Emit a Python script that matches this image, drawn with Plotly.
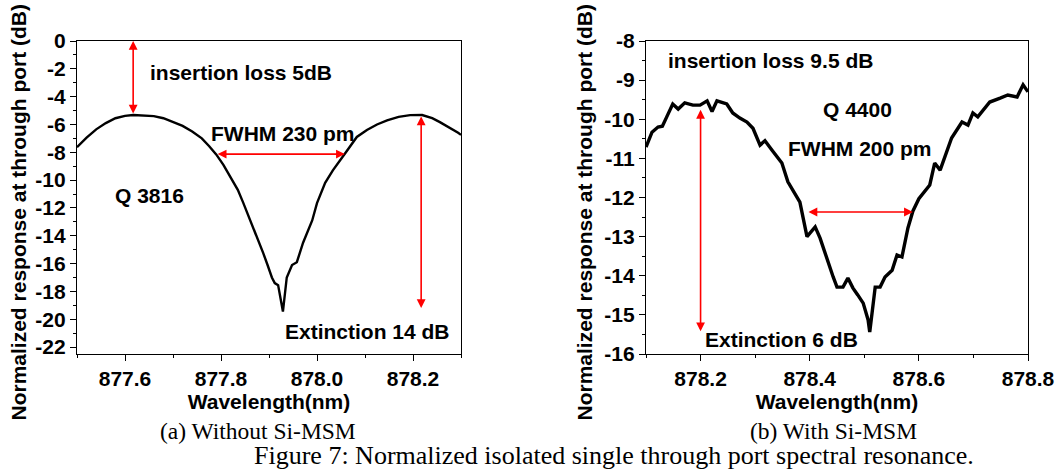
import plotly.graph_objects as go

# ---------------- data ----------------
left_wl = [877.500, 877.520, 877.540, 877.560, 877.580, 877.600, 877.617, 877.640, 877.660,
           877.680, 877.700, 877.720, 877.740, 877.760, 877.775, 877.790, 877.805, 877.819,
           877.835, 877.846, 877.856, 877.867, 877.877, 877.888, 877.897, 877.906, 877.912,
           877.919, 877.929, 877.937, 877.948, 877.958, 877.971, 877.990, 878.000, 878.017,
           878.033, 878.045, 878.058, 878.083, 878.104, 878.125, 878.146, 878.170, 878.194,
           878.219, 878.240, 878.256, 878.275, 878.294, 878.300]
left_db = [-7.63, -6.95, -6.35, -5.90, -5.55, -5.38, -5.32, -5.35, -5.40,
           -5.55, -5.80, -6.10, -6.50, -7.00, -7.55, -8.15, -8.90, -9.75,
           -10.70, -11.60, -12.45, -13.40, -14.30, -15.25, -16.10, -17.00, -17.40,
           -17.55, -19.45, -17.00, -16.10, -15.90, -14.50, -12.90, -11.65, -10.20,
           -9.30, -8.70, -8.10, -6.90, -6.40, -6.00, -5.70, -5.45, -5.33,
           -5.32, -5.55, -5.83, -6.20, -6.60, -6.75]

right_wl = [878.100, 878.111, 878.122, 878.130, 878.138, 878.149, 878.159, 878.171, 878.186,
            878.199, 878.212, 878.221, 878.230, 878.248, 878.259, 878.272, 878.285, 878.296,
            878.309, 878.318, 878.331, 878.349, 878.360, 878.377, 878.382, 878.395, 878.410,
            878.419, 878.432, 878.443, 878.450, 878.461, 878.470, 878.479, 878.488, 878.498,
            878.507, 878.510, 878.520, 878.529, 878.538, 878.551, 878.560, 878.569, 878.580,
            878.589, 878.600, 878.611, 878.620, 878.629, 878.639, 878.660, 878.679, 878.690,
            878.699, 878.708, 878.730, 878.749, 878.763, 878.780, 878.791, 878.800]
right_db = [-10.71, -10.33, -10.20, -10.18, -9.94, -9.61, -9.74, -9.58, -9.64,
            -9.64, -9.53, -9.80, -9.53, -9.61, -9.84, -9.97, -10.07, -10.23,
            -10.66, -10.55, -10.79, -11.12, -11.60, -12.00, -12.12, -13.00, -12.75,
            -13.04, -13.60, -14.03, -14.29, -14.29, -14.06, -14.31, -14.49, -14.70,
            -15.13, -15.44, -14.29, -14.29, -14.03, -13.86, -13.47, -13.52, -12.78,
            -12.35, -12.03, -11.85, -11.68, -11.12, -11.30, -10.48, -10.07, -10.15,
            -9.84, -9.94, -9.56, -9.46, -9.38, -9.43, -9.12, -9.30]

left_xticks = [877.6, 877.8, 878.0, 878.2]
left_yticks = [0, -2, -4, -6, -8, -10, -12, -14, -16, -18, -20, -22]
right_xticks = [878.2, 878.4, 878.6, 878.8]
right_yticks = [-8, -9, -10, -11, -12, -13, -14, -15, -16]

# ---------------- styling ----------------
FONT = "Liberation Sans"
SERIF = "Liberation Serif"
FS = 21
RED = "#ff0000"

fig = go.Figure()
fig.add_trace(go.Scatter(x=left_wl, y=left_db, mode="lines",
                         line=dict(color="black", width=2.4), xaxis="x", yaxis="y",
                         showlegend=False))
fig.add_trace(go.Scatter(x=right_wl, y=right_db, mode="lines",
                         line=dict(color="black", width=3.4), xaxis="x2", yaxis="y2",
                         showlegend=False))

W, H = 1058, 469
ydom = [1 - 354 / H, 1 - 41 / H]

def ax_common():
    return dict(showline=True, linecolor="black", linewidth=1.3, mirror=True,
                ticks="outside", ticklen=6, tickwidth=1.3, tickcolor="black",
                showgrid=False, zeroline=False, automargin=False,
                tickfont=dict(family=FONT, size=FS, color="black", weight="bold"))

def fmt(v, nd):
    s = f"{v:.{nd}f}"
    return s.replace("\u2212", "-")

xa = ax_common()
xa.update(domain=[77 / W, 461 / W], range=[877.5, 878.3], anchor="y",
          tickvals=left_xticks, ticktext=[fmt(v, 1) for v in left_xticks],
          minor=dict(ticks="outside", ticklen=3, tickwidth=1.3, tickcolor="black", dtick=0.1, tick0=877.5),
          title=dict(text="Wavelength(nm)", standoff=3,
                     font=dict(family=FONT, size=FS, color="black", weight="bold")))
ya = ax_common()
ya.update(domain=ydom, range=[-22.5, 0], anchor="x",
          tickvals=left_yticks, ticktext=[fmt(v, 0) for v in left_yticks],
          minor=dict(ticks="outside", ticklen=3, tickwidth=1.3, tickcolor="black", dtick=1, tick0=0))
xa2 = ax_common()
xa2.update(domain=[646 / W, 1028 / W], range=[878.1, 878.8], anchor="y2",
           tickvals=right_xticks, ticktext=[fmt(v, 1) for v in right_xticks],
           minor=dict(ticks="outside", ticklen=3, tickwidth=1.3, tickcolor="black", dtick=0.1, tick0=878.1),
           title=dict(text="Wavelength(nm)", standoff=3,
                      font=dict(family=FONT, size=FS, color="black", weight="bold")))
ya2 = ax_common()
ya2.update(domain=ydom, range=[-16, -8], anchor="x2",
           tickvals=right_yticks, ticktext=[fmt(v, 0) for v in right_yticks],
           minor=dict(ticks="outside", ticklen=3, tickwidth=1.3, tickcolor="black", dtick=0.5, tick0=-8))

annotations = []

def arrow(xref, yref, x0, y0, x1, y1):
    annotations.append(dict(xref=xref, yref=yref, axref=xref, ayref=yref,
                            x=x1, y=y1, ax=x0, ay=y0, text="", showarrow=True,
                            arrowhead=2, arrowside="end+start", arrowsize=1.1,
                            arrowwidth=1.6, arrowcolor=RED, standoff=0, startstandoff=0))

def label(xref, yref, x, y, text, xanchor="center"):
    annotations.append(dict(xref=xref, yref=yref, x=x, y=y, text=text, showarrow=False,
                            xanchor=xanchor, yanchor="middle",
                            font=dict(family=FONT, size=FS, color="black", weight="bold")))

# left panel
arrow("x", "y", 877.617, -5.32, 877.617, 0.0)
arrow("x", "y", 877.79, -8.13, 878.058, -8.13)
arrow("x", "y", 878.217, -5.32, 878.217, -19.2)
label("x", "y", 877.648, -2.23, "insertion loss 5dB", xanchor="left")
label("x", "y", 877.929, -6.62, "FWHM 230 pm")
label("x", "y", 877.652, -11.1, "Q 3816")
label("x", "y", 878.106, -20.86, "Extinction 14 dB")

# right panel
arrow("x2", "y2", 878.2, -15.46, 878.2, -9.76)
arrow("x2", "y2", 878.395, -12.37, 878.589, -12.37)
label("x2", "y2", 878.329, -8.49, "insertion loss 9.5 dB")
label("x2", "y2", 878.487, -9.76, "Q 4400")
label("x2", "y2", 878.492, -10.74, "FWHM 200 pm")
label("x2", "y2", 878.349, -15.62, "Extinction 6 dB")

# y-axis titles (rotated)
ytitle = "Normalized response at through port (dB)"
for xc in (18, 584):
    annotations.append(dict(xref="paper", yref="paper", x=xc / W, y=1 - 423 / H,
                            xanchor="center", yanchor="bottom", textangle=-90,
                            text=ytitle, showarrow=False,
                            font=dict(family=FONT, size=FS, color="black", weight="bold")))

# captions
cap_font = dict(family=SERIF, size=23.5, color="black")
annotations.append(dict(xref="paper", yref="paper", x=258 / W, y=1 - 431 / H,
                        xanchor="center", yanchor="middle", text="(a) Without Si-MSM",
                        showarrow=False, font=cap_font))
annotations.append(dict(xref="paper", yref="paper", x=833 / W, y=1 - 431 / H,
                        xanchor="center", yanchor="middle", text="(b) With Si-MSM",
                        showarrow=False, font=cap_font))
annotations.append(dict(xref="paper", yref="paper", x=614 / W, y=1 - 455 / H,
                        xanchor="center", yanchor="middle",
                        text="Figure 7: Normalized isolated single through port spectral resonance.",
                        showarrow=False, font=dict(family=SERIF, size=26, color="black")))

fig.update_layout(width=W, height=H,
                  margin=dict(l=0, r=0, t=0, b=0, pad=0, autoexpand=False),
                  paper_bgcolor="white", plot_bgcolor="white",
                  xaxis=xa, yaxis=ya, xaxis2=xa2, yaxis2=ya2,
                  annotations=annotations, showlegend=False)

fig.write_html("out.html")
